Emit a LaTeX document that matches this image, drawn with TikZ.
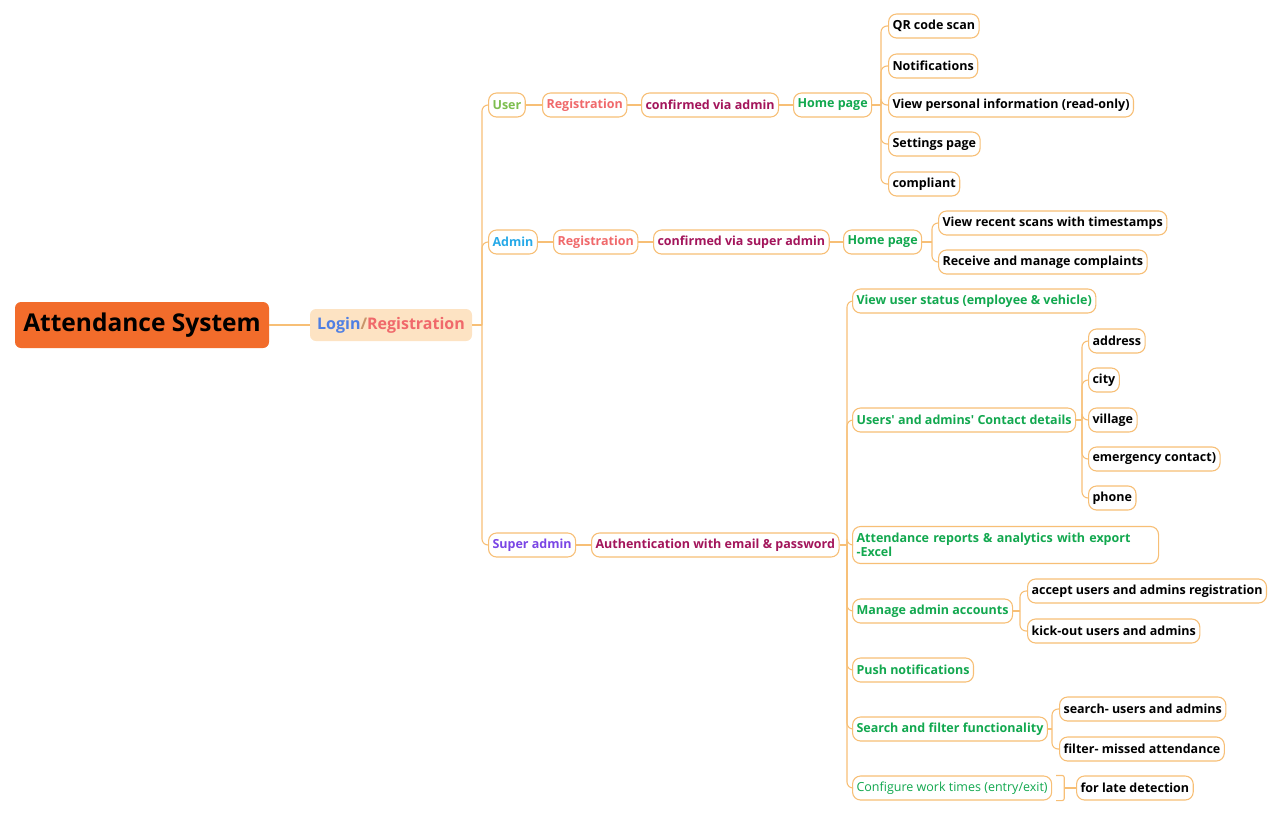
\documentclass[tikz,border=0pt]{standalone}
\usepackage{fontspec}
\setmainfont{Open Sans}
\usepackage{tikz}
\usetikzlibrary{positioning,calc}

\definecolor{edge}{HTML}{F7BF76}
\definecolor{rootbg}{HTML}{F26C2B}
\definecolor{loginbg}{HTML}{FDE3C3}
\definecolor{cblue}{HTML}{4F7FE3}
\definecolor{csalmon}{HTML}{F0696B}
\definecolor{cslash}{HTML}{C8956A}
\definecolor{clime}{HTML}{7DBE4F}
\definecolor{csky}{HTML}{26A9E8}
\definecolor{cviolet}{HTML}{7A45E5}
\definecolor{cwine}{HTML}{A3155B}
\definecolor{cgreen}{HTML}{12A84F}

\begin{document}
\begin{tikzpicture}[
        x=1pt, y=-1pt,
        font=\fontsize{12.5}{14.5}\selectfont\bfseries,
        box/.style   ={draw=edge, line width=1.1pt, rounded corners=8pt, fill=white,
                       minimum height=24pt, inner xsep=4pt, inner ysep=2pt, anchor=west},
        leaf/.style  ={box, text=black},
        feat/.style  ={box, text=cgreen},
        link/.style  ={draw=edge, line width=1.1pt, rounded corners=6pt},
        ctr/.style   ={draw=edge, line width=1.1pt},
    ]
    \useasboundingbox (0,0) rectangle (1280,815);

    % ===================== Root =====================
    \node[fill=rootbg, rounded corners=6pt, minimum width=254pt, minimum height=46pt,
          font=\fontsize{24.5}{27}\selectfont\bfseries] (root) at (142,325) {Attendance System};
    \node[fill=loginbg, rounded corners=6pt, minimum width=162pt, minimum height=32pt,
          font=\fontsize{16}{19}\selectfont\bfseries] (login) at (391,325)
        {\textcolor{cblue}{Login}\textcolor{cslash}{/}\textcolor{csalmon}{Registration}};
    \draw[ctr] (root.east) -- (login.west);

    % ===================== Roles =====================
    \node[box, text=clime]   (user)  at (488,105) {User};
    \node[box, text=csky]    (admin) at (488,242) {Admin};
    \node[box, text=cviolet] (super) at (488,545) {Super admin};

    \coordinate (jL) at (482,325);
    \draw[ctr] (login.east) -- (jL);
    \foreach \n in {user,admin,super}{
        \draw[link] (jL) |- (\n.west);
    }

    % ===================== User branch =====================
    \node[box, text=csalmon] (regU)  at (542,105) {Registration};
    \node[box, text=cwine]   (confU) at (641,105) {confirmed via admin};
    \node[feat]              (homeU) at (793,105) {Home page};
    \draw[ctr] (user.east) -- (regU.west);
    \draw[ctr] (regU.east) -- (confU.west);
    \draw[ctr] (confU.east) -- (homeU.west);

    \node[leaf] (qr)    at (888,26)  {QR code scan};
    \node[leaf] (notif) at (888,66)  {Notifications};
    \node[leaf] (pers)  at (888,105) {View personal information (read-only)};
    \node[leaf] (sett)  at (888,144) {Settings page};
    \node[leaf] (compl) at (888,184) {compliant};

    \coordinate (jU) at (881,105);
    \draw[ctr] (homeU.east) -- (jU);
    \foreach \n in {qr,notif,pers,sett,compl}{
        \draw[link] (jU) |- (\n.west);
    }

    % ===================== Admin branch =====================
    \node[box, text=csalmon] (regA)  at (553,242) {Registration};
    \node[box, text=cwine]   (confA) at (653,242) {confirmed via super admin};
    \node[feat]              (homeA) at (843,242) {Home page};
    \draw[ctr] (admin.east) -- (regA.west);
    \draw[ctr] (regA.east) -- (confA.west);
    \draw[ctr] (confA.east) -- (homeA.west);

    \node[leaf] (scans) at (938,223) {View recent scans with timestamps};
    \node[leaf] (cmpl)  at (938,262) {Receive and manage complaints};

    \coordinate (jA) at (932,242);
    \draw[ctr] (homeA.east) -- (jA);
    \foreach \n in {scans,cmpl}{
        \draw[link] (jA) |- (\n.west);
    }

    % ===================== Super admin branch =====================
    \node[box, text=cwine] (auth) at (591,545) {Authentication with email \& password};
    \draw[ctr] (super.east) -- (auth.west);

    \node[feat] (status)  at (852,301) {View user status (employee \& vehicle)};
    \node[feat] (contact) at (852,420) {Users\textquotesingle{} and admins\textquotesingle{} Contact details};
    \node[feat, text width=298pt, align=left, minimum height=37pt,
          font=\fontsize{12.5}{14}\selectfont\bfseries] (report) at (852,545)
        {Attendance reports \& analytics with export\\-Excel};
    \node[feat] (manage)  at (852,611) {Manage admin accounts};
    \node[feat] (push)    at (852,670) {Push notifications};
    \node[feat] (search)  at (852,729) {Search and filter functionality};
    \node[feat, font=\fontsize{12.5}{14.5}\selectfont\mdseries] (config) at (852,788)
        {Configure work times (entry/exit)};

    \coordinate (jS) at (847,545);
    \draw[ctr] (auth.east) -- (jS);
    \foreach \n in {status,contact,report,manage,push,search,config}{
        \draw[link] (jS) |- (\n.west);
    }

    % contact details
    \node[leaf] (addr)  at (1088,341) {address};
    \node[leaf] (city)  at (1088,380) {city};
    \node[leaf] (vill)  at (1088,420) {village};
    \node[leaf] (emerg) at (1088,459) {emergency contact)};
    \node[leaf] (phone) at (1088,498) {phone};

    \coordinate (jC) at (1082,420);
    \draw[ctr] (contact.east) -- (jC);
    \foreach \n in {addr,city,vill,emerg,phone}{
        \draw[link] (jC) |- (\n.west);
    }

    % admin accounts
    \node[leaf] (accept) at (1027,591) {accept users and admins registration};
    \node[leaf] (kick)   at (1027,631) {kick-out users and admins};

    \coordinate (jM) at (1020,611);
    \draw[ctr] (manage.east) -- (jM);
    \foreach \n in {accept,kick}{
        \draw[link] (jM) |- (\n.west);
    }

    % search / filter
    \node[leaf] (srch) at (1059,709) {search- users and admins};
    \node[leaf] (filt) at (1059,749) {filter- missed attendance};

    \coordinate (jF) at (1052,729);
    \draw[ctr] (search.east) -- (jF);
    \foreach \n in {srch,filt}{
        \draw[link] (jF) |- (\n.west);
    }

    % summary bracket
    \node[leaf] (late) at (1076,788) {for late detection};
    \draw[ctr, rounded corners=2pt] ([xshift=4pt]config.north east) -- ++(8,0)
        -- ([xshift=12pt]config.south east) -- ([xshift=4pt]config.south east);
    \draw[ctr] ([xshift=12pt]config.east) -- (late.west);
\end{tikzpicture}
\end{document}
